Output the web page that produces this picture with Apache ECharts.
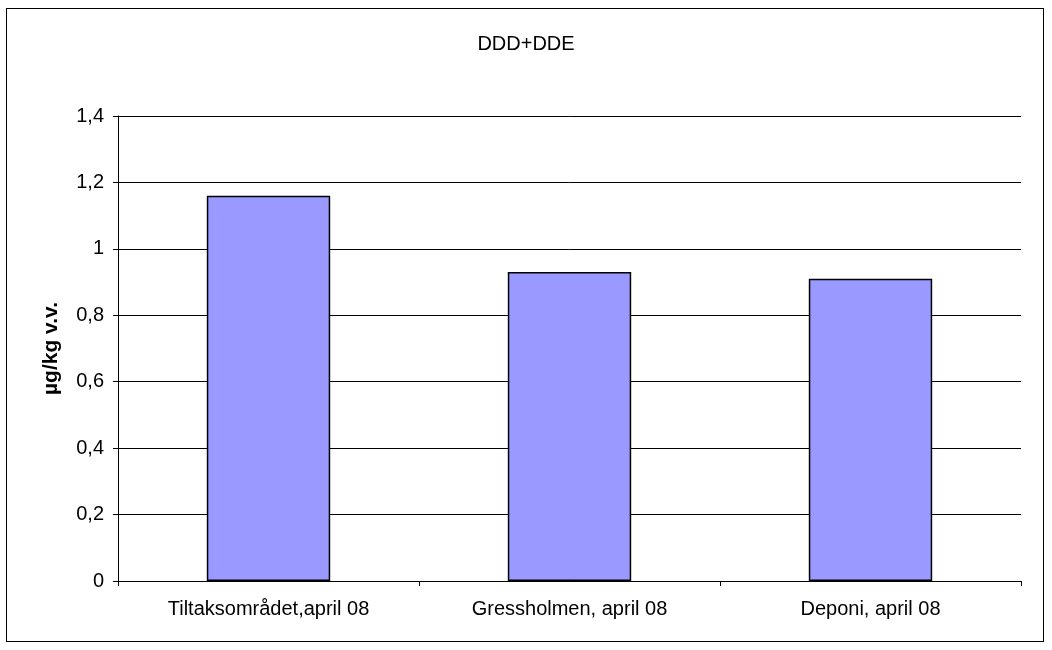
<!DOCTYPE html>
<html><head><meta charset="utf-8">
<script src="https://cdn.jsdelivr.net/npm/echarts@6/dist/echarts.min.js"></script>
<style>html,body{margin:0;padding:0;background:#fff}#c{width:1052px;height:650px;position:relative}
#frame{position:absolute;left:6px;top:8px;width:1038px;height:634px;border:1px solid #000;box-sizing:border-box;pointer-events:none}</style>
</head><body><div id="c"></div><div id="frame"></div>
<script>
const categories = ["Tiltaksområdet,april 08", "Gressholmen, april 08", "Deponi, april 08"];
const values = [1.16, 0.93, 0.91];
const yTicks = [0, 0.2, 0.4, 0.6, 0.8, 1, 1.2, 1.4];
const title = "DDD+DDE";
const yName = "µg/kg v.v.";
const chart = echarts.init(document.getElementById('c'), null, {renderer:'canvas'});
chart.setOption({
  animation:false,
  backgroundColor:'#fff',
  title:{text:title,left:'center',top:29,textStyle:{fontFamily:'Liberation Sans, Arial',fontSize:20,fontWeight:'normal',color:'#000'}},
  grid:{left:118,right:31,top:116,bottom:69},
  xAxis:{type:'category',data:categories,
    axisLine:{lineStyle:{color:'#000',width:1}},
    axisTick:{show:true,length:5,alignWithLabel:false,lineStyle:{color:'#000'}},
    axisLabel:{fontFamily:'Liberation Sans, Arial',fontSize:20,color:'#000',margin:18}},
  yAxis:{type:'value',min:yTicks[0],max:yTicks[yTicks.length-1],interval:0.2,
    name:yName,nameLocation:'middle',nameGap:56,nameRotate:90,
    nameTextStyle:{fontFamily:'Liberation Sans, Arial',fontSize:21,fontWeight:'bold',color:'#000'},
    axisLine:{show:true,lineStyle:{color:'#000',width:1}},
    axisTick:{show:true,length:5,lineStyle:{color:'#000'}},
    splitLine:{show:true,lineStyle:{color:'#000',width:1}},
    axisLabel:{fontFamily:'Liberation Sans, Arial',fontSize:20,color:'#000',margin:14,
      formatter:v=>String(Math.round(v*10)/10).replace('.',',')}},
  series:[{type:'bar',data:values,barWidth:'41%',
    itemStyle:{color:'#9999FF',borderColor:'#000',borderWidth:1.5}}]
});
</script></body></html>
